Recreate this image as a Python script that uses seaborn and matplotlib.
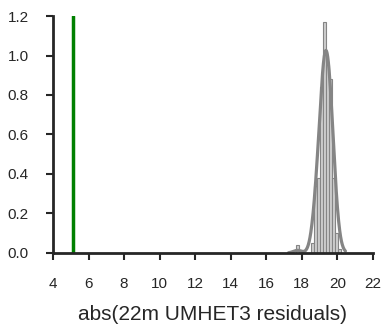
import matplotlib
matplotlib.use("Agg")
import matplotlib.pyplot as plt
import seaborn as sns
import numpy as np

# Histogram (bin edges and bar heights)
bin_edges = [17.50, 17.67, 17.84, 18.01, 18.18, 18.35, 18.52, 18.69, 18.86,
             19.03, 19.20, 19.37, 19.54, 19.71, 19.88, 20.05, 20.22]
bar_heights = [0.0, 0.04, 0.0, 0.0, 0.0, 0.0, 0.05, 0.34, 0.38,
               0.84, 1.17, 0.95, 0.88, 0.38, 0.10, 0.02]
marker_value = 5.1
x_ticks = [4, 6, 8, 10, 12, 14, 16, 18, 20, 22]
y_ticks = [0.0, 0.2, 0.4, 0.6, 0.8, 1.0, 1.2]
x_label = "abs(22m UMHET3 residuals)"

sns.set_theme(style="ticks")
plt.rcParams['font.family'] = ['Liberation Sans', 'DejaVu Sans']

fig = plt.figure(figsize=(3.82, 3.28), dpi=100)
ax = fig.add_axes([0.1387, 0.2287, 0.8377, 0.7225])

centers = [(a + b) / 2 for a, b in zip(bin_edges[:-1], bin_edges[1:])]
sns.histplot(x=centers, weights=bar_heights, bins=bin_edges, stat="count",
             color="#cfcfcf", edgecolor="#858585", linewidth=0.8, alpha=1.0, ax=ax)
sns.kdeplot(x=centers, weights=bar_heights, bw_adjust=0.95, cut=2,
            clip=(17.25, 20.45), color="#858585", linewidth=2.3, ax=ax)
ax.axvline(marker_value, color="#008000", linewidth=2.5)

ax.set_xlim(4, 22)
ax.set_ylim(0, 1.2)
ax.set_xticks(x_ticks)
ax.set_yticks(y_ticks)
ax.set_yticklabels([f"{v:.1f}" for v in y_ticks])
ax.set_xlabel(x_label, fontsize=15, color="#262626", labelpad=10)
ax.set_ylabel("")
ax.tick_params(labelsize=11, width=1.5, length=5, colors="#262626", pad=12.5)
for s in ["left", "bottom"]:
    ax.spines[s].set_linewidth(2.0)
    ax.spines[s].set_color("#262626")
sns.despine(ax=ax)

fig.savefig("out.png", dpi=100)
